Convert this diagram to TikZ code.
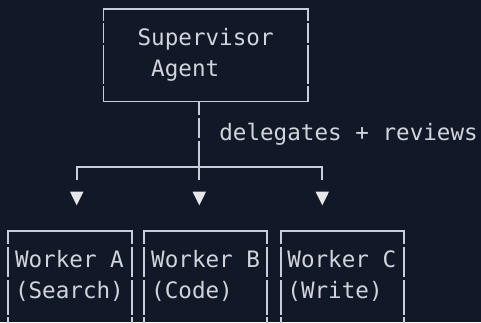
\documentclass[tikz,border=0pt]{standalone}
\usepackage{fontspec}
\setmonofont{DejaVu Sans Mono}
\definecolor{bg}{HTML}{111827}
\definecolor{ink}{HTML}{D1D5DB}
\definecolor{rulec}{HTML}{C7CED9}
\definecolor{tip}{HTML}{E5E7EB}
\begin{document}
\begin{tikzpicture}[x=1pt,y=-1pt,
  box/.style={draw=rulec,line width=1.9pt,inner sep=0pt},
  lbl/.style={anchor=base west,inner sep=0pt,text=ink,font=\ttfamily\fontsize{22.6}{27}\selectfont},
  wire/.style={draw=rulec,line width=1.9pt},
  gapmark/.style={fill=bg}]
\fill[bg] (0,0) rectangle (481,322);
\useasboundingbox (0,0) rectangle (481,322);
\clip (0,0) rectangle (481,322);

% supervisor box
\node[box,minimum width=204.5pt,minimum height=92.5pt] (sup) at (205.75,55.25) {};
\node[lbl] (supT1) at (137.4,45) {Supervisor};
\node[lbl] (supT2) at (151,76.7) {Agent};

% worker boxes (cut off at the bottom)
\node[box,minimum width=123.4pt,minimum height=140pt,anchor=north] (wA) at (70,230) {};
\node[box,minimum width=123.3pt,minimum height=140pt,anchor=north] (wB) at (205.65,230) {};
\node[box,minimum width=123.3pt,minimum height=140pt,anchor=north] (wC) at (342.35,230) {};
\node[lbl] (wA1) at (14.8,267.3) {Worker A};
\node[lbl] (wA2) at (14.8,298.5) {(Search)};
\node[lbl] (wB1) at (151,267.3) {Worker B};
\node[lbl] (wB2) at (151,298.5) {(Code)};
\node[lbl] (wC1) at (287.2,267.3) {Worker C};
\node[lbl] (wC2) at (287.2,298.5) {(Write)};

% connectors
\path (sup.south) ++(-6.45,0) coordinate (stemTop);
\coordinate (stemEnd) at (199.3,180);
\coordinate (hubL) at (76.7,166.7);
\coordinate (hubR) at (322.3,166.7);
\coordinate (dropL) at (76.7,180);
\coordinate (dropR) at (322.3,180);
\draw[wire] (stemTop) -- (stemEnd);
\draw[wire] (dropL) -- (hubL) -- (hubR) -- (dropR);
\node[lbl] (lab) at (219.1,140.5) {delegates + reviews};

% arrow heads
\foreach \ax in {76.7,199.3,322.3}
  \fill[tip] ({\ax-6.7},191.7) -- ({\ax+6.7},191.7) -- (\ax,205.3) -- cycle;

% character-cell gaps in vertical strokes
\foreach \gx in {103.5,308}
  \foreach \gy in {22.2,44,84.7}
    \fill[gapmark] ({\gx-2.5},{\gy-1.2}) rectangle ({\gx+2.5},{\gy+1.2});
\foreach \gy in {116.5,139.5}
  \fill[gapmark] (196.8,{\gy-1.2}) rectangle (201.8,{\gy+1.2});
\foreach \gx in {8.3,131.7,144,267.3,280.7,404}
  \foreach \gy in {245.5,278.3,315.8}
    \fill[gapmark] ({\gx-2.5},{\gy-1.2}) rectangle ({\gx+2.5},{\gy+1.2});
\end{tikzpicture}
\end{document}
